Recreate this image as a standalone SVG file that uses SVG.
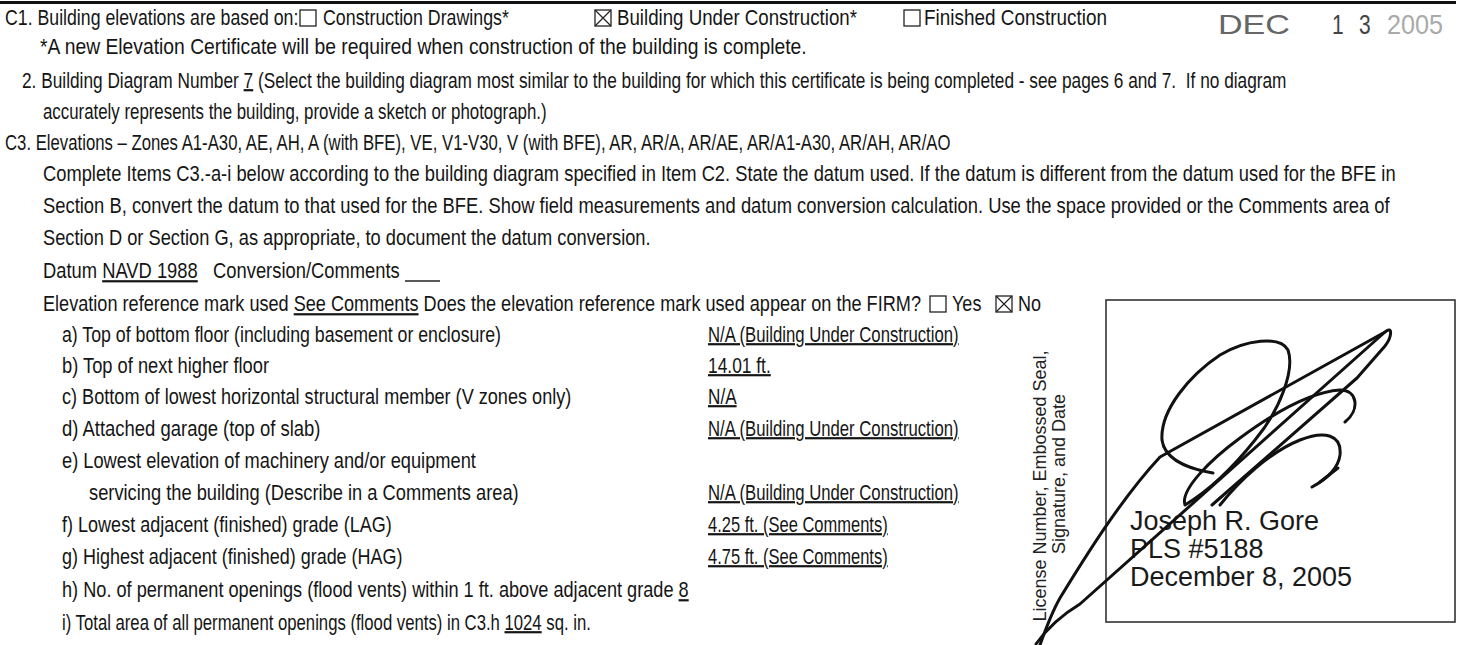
<svg xmlns="http://www.w3.org/2000/svg" width="1460" height="645" viewBox="0 0 1460 645">
<style>
.t{font-family:"Liberation Sans",Arial,sans-serif;font-size:22px;fill:#151515}
.u{text-decoration:underline}
.cb{fill:none;stroke:#222;stroke-width:1.3}
.x{stroke:#222;stroke-width:1.2}
.v{font-family:"Liberation Sans",Arial,sans-serif;font-size:18px;fill:#222;text-anchor:middle}
.big{font-family:"Liberation Sans",Arial,sans-serif;font-size:27px;fill:#1a1a1a}
.st{font-family:"Liberation Sans",Arial,sans-serif;font-size:28px}
.sig{fill:none;stroke:#111;stroke-width:3;stroke-linecap:round;stroke-linejoin:round}
</style>
<rect width="1460" height="645" fill="#fff"/>
<rect x="0" y="1" width="1456" height="3" fill="#111"/>

<g id="c1">
<text class="t" transform="translate(5,25) scale(0.805,1)">C1. Building elevations are based on:</text>
<rect class="cb" x="300" y="10" width="16" height="16"/>
<text class="t" transform="translate(323,25) scale(0.809,1)">Construction Drawings*</text>
<rect class="cb" x="595" y="10" width="16" height="16"/>
<path class="x" d="M595,10 L611,26 M611,10 L595,26"/>
<text class="t" transform="translate(617,25) scale(0.85,1)">Building Under Construction*</text>
<rect class="cb" x="904" y="10" width="16" height="16"/>
<text class="t" transform="translate(924,25) scale(0.861,1)">Finished Construction</text>
<text class="t" transform="translate(40,54) scale(0.877,1)">*A new Elevation Certificate will be required when construction of the building is complete.</text>
</g>

<g id="stamp">
<text class="st" fill="#666" x="1218" y="34" textLength="72" lengthAdjust="spacingAndGlyphs">DEC</text>
<text class="st" fill="#444" transform="translate(1332,34) scale(0.75,1)">1</text>
<text class="st" fill="#444" transform="translate(1359,34) scale(0.75,1)">3</text>
<text class="st" fill="#aaa" transform="translate(1387,34) scale(0.9,1)">2005</text>
</g>

<g id="c2">
<text class="t" transform="translate(22,88) scale(0.785,1)" xml:space="preserve">2. Building Diagram Number <tspan class="u">7</tspan> (Select the building diagram most similar to the building for which this certificate is being completed - see pages 6 and 7.  If no diagram</text>
<text class="t" transform="translate(43,119) scale(0.766,1)">accurately represents the building, provide a sketch or photograph.)</text>
</g>

<g id="c3">
<text class="t" transform="translate(5,150) scale(0.761,1)">C3. Elevations – Zones A1-A30, AE, AH, A (with BFE), VE, V1-V30, V (with BFE), AR, AR/A, AR/AE, AR/A1-A30, AR/AH, AR/AO</text>
<text class="t" transform="translate(43,181) scale(0.833,1)">Complete Items C3.-a-i below according to the building diagram specified in Item C2. State the datum used. If the datum is different from the datum used for the BFE in</text>
<text class="t" transform="translate(43,213) scale(0.836,1)">Section B, convert the datum to that used for the BFE. Show field measurements and datum conversion calculation. Use the space provided or the Comments area of</text>
<text class="t" transform="translate(43,245) scale(0.83,1)">Section D or Section G, as appropriate, to document the datum conversion.</text>
<text class="t" transform="translate(43,278) scale(0.835,1)" xml:space="preserve">Datum <tspan class="u">NAVD 1988</tspan>   Conversion/Comments</text>
<line x1="405" y1="281" x2="440" y2="281" stroke="#222" stroke-width="1.4"/>
<text class="t" transform="translate(43,311) scale(0.824,1)">Elevation reference mark used <tspan class="u">See Comments</tspan> Does the elevation reference mark used appear on the FIRM?</text>
<rect class="cb" x="930" y="296" width="16" height="16"/>
<text class="t" transform="translate(952,311) scale(0.82,1)">Yes</text>
<rect class="cb" x="996" y="296" width="16" height="16"/>
<path class="x" d="M996,296 L1012,312 M1012,296 L996,312"/>
<text class="t" transform="translate(1018,311) scale(0.82,1)">No</text>
</g>

<g id="items">
<text class="t" transform="translate(62,342) scale(0.806,1)">a) Top of bottom floor (including basement or enclosure)</text>
<text class="t u" transform="translate(708,342) scale(0.76,1)">N/A (Building Under Construction)</text>
<text class="t" transform="translate(62,373) scale(0.832,1)">b) Top of next higher floor</text>
<text class="t u" transform="translate(708,373) scale(0.79,1)">14.01 ft.</text>
<text class="t" transform="translate(62,404) scale(0.824,1)">c) Bottom of lowest horizontal structural member (V zones only)</text>
<text class="t u" transform="translate(708,404) scale(0.78,1)">N/A</text>
<text class="t" transform="translate(62,436) scale(0.839,1)">d) Attached garage (top of slab)</text>
<text class="t u" transform="translate(708,436) scale(0.76,1)">N/A (Building Under Construction)</text>
<text class="t" transform="translate(62,468) scale(0.83,1)">e) Lowest elevation of machinery and/or equipment</text>
<text class="t" transform="translate(89,500) scale(0.831,1)">servicing the building (Describe in a Comments area)</text>
<text class="t u" transform="translate(708,500) scale(0.76,1)">N/A (Building Under Construction)</text>
<text class="t" transform="translate(62,532) scale(0.82,1)">f) Lowest adjacent (finished) grade (LAG)</text>
<text class="t u" transform="translate(708,532) scale(0.75,1)">4.25 ft. (See Comments)</text>
<text class="t" transform="translate(62,564) scale(0.817,1)">g) Highest adjacent (finished) grade (HAG)</text>
<text class="t u" transform="translate(708,564) scale(0.75,1)">4.75 ft. (See Comments)</text>
<text class="t" transform="translate(62,597) scale(0.826,1)">h) No. of permanent openings (flood vents) within 1 ft. above adjacent grade <tspan class="u">8</tspan></text>
<text class="t" transform="translate(62,630) scale(0.76,1)">i) Total area of all permanent openings (flood vents) in C3.h <tspan class="u">1024</tspan> sq. in.</text>
</g>

<g id="seal">
<rect x="1106" y="300" width="349" height="322" fill="none" stroke="#333" stroke-width="1.6"/>
<text class="v" transform="translate(1046,486) rotate(-90)">License Number, Embossed Seal,</text>
<text class="v" transform="translate(1065,474) rotate(-90)">Signature, and Date</text>
<text class="big" x="1130" y="530">Joseph R. Gore</text>
<text class="big" x="1130" y="558">PLS #5188</text>
<text class="big" x="1130" y="586">December 8, 2005</text>
</g>

<g id="signature">
<path class="sig" d="M1036,644 C1046,630 1060,616 1080,604 L1385,332 C1393,325 1392,337 1385,346 L1357,378 L1212,505"/>
<path class="sig" d="M1040,645 C1046,628 1052,612 1060,598 C1082,562 1120,500 1160,457 L1385,332"/>
<path class="sig" d="M1213,473 C1195,470 1165,462 1162,440 C1160,410 1190,375 1220,355 C1245,340 1280,335 1288,350 C1295,370 1280,410 1255,440 C1235,465 1210,490 1185,505 C1180,490 1210,460 1240,438 C1275,412 1310,392 1340,390 C1358,390 1360,410 1345,422"/>
<path class="sig" d="M1220,505 C1240,480 1270,452 1300,440 C1325,430 1342,435 1340,455 C1338,470 1325,480 1312,487"/>
<path class="sig" stroke-width="2" d="M1320,482 L1338,468"/>
</g>
</svg>
